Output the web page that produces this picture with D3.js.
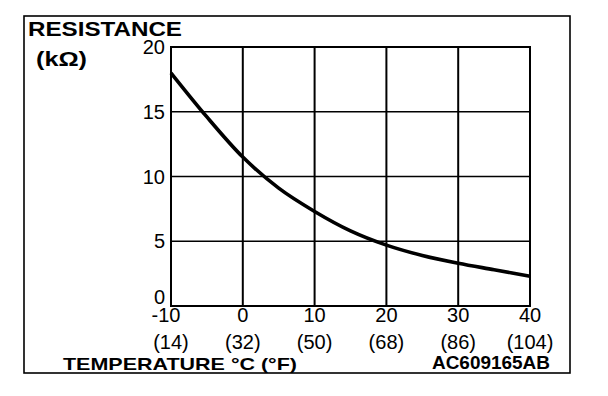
<!DOCTYPE html>
<html>
<head>
<meta charset="utf-8">
<script src="https://cdn.jsdelivr.net/npm/d3@7"></script>
<style>
  body { margin: 0; background: #fff; }
  text { font-family: "Liberation Sans", Arial, sans-serif; fill: #000; }
</style>
</head>
<body>
<svg id="chart" width="608" height="396"></svg>
<script>
// curve, every 5 degrees C
const tempC = [-10, -5, 0, 5, 10, 15, 20, 25, 30, 35, 40]
const resistance = [18.0, 14.6, 11.5, 9.1, 7.3, 5.8, 4.7, 3.9, 3.3, 2.8, 2.3]

const xTicks = [-10, 0, 10, 20, 30, 40]
const fahrenheitLabels = ["(14)", "(32)", "(50)", "(68)", "(86)", "(104)"]
const yTicks = [0, 5, 10, 15, 20]

;(function() {

  const svg = d3.select("#chart")

  const left = 171, right = 530, top = 47, bottom = 306

  const x = d3.scaleLinear().domain([-10, 40]).range([left, right])
  const y = d3.scaleLinear().domain([0, 20]).range([bottom, top])

  // outer frame
  svg.append("rect")
    .attr("x", 24).attr("y", 16)
    .attr("width", 546).attr("height", 357)
    .attr("fill", "none").attr("stroke", "#000").attr("stroke-width", 1.6)

  // grid lines
  svg.selectAll(".vgrid")
    .data(xTicks.slice(1, -1))
    .enter().append("line")
    .attr("x1", d => x(d)).attr("x2", d => x(d))
    .attr("y1", top).attr("y2", bottom)
    .attr("stroke", "#000").attr("stroke-width", 2)

  svg.selectAll(".hgrid")
    .data(yTicks.slice(1, -1))
    .enter().append("line")
    .attr("x1", left).attr("x2", right)
    .attr("y1", d => y(d)).attr("y2", d => y(d))
    .attr("stroke", "#000").attr("stroke-width", 1.4)

  // plot box
  svg.append("rect")
    .attr("x", left).attr("y", top)
    .attr("width", right - left).attr("height", bottom - top)
    .attr("fill", "none").attr("stroke", "#000").attr("stroke-width", 2)

  // the curve
  const line = d3.line()
    .x((d, i) => x(tempC[i]))
    .y(d => y(d))
    .curve(d3.curveMonotoneX)

  svg.append("path")
    .datum(resistance)
    .attr("d", line)
    .attr("fill", "none")
    .attr("stroke", "#000")
    .attr("stroke-width", 3.6)

  // y labels
  svg.selectAll(".ylab")
    .data(yTicks)
    .enter().append("text")
    .attr("x", 165)
    .attr("y", d => Math.min(y(d), bottom - 9))
    .attr("dy", "0.36em")
    .attr("text-anchor", "end")
    .attr("font-size", 20)
    .text(d => d)

  // x labels, celsius then fahrenheit
  svg.selectAll(".xlab")
    .data(xTicks)
    .enter().append("text")
    .attr("x", d => x(d) + (d < 0 ? -5 : 0))
    .attr("y", 322)
    .attr("text-anchor", "middle")
    .attr("font-size", 20)
    .text(d => d)

  svg.selectAll(".flab")
    .data(fahrenheitLabels)
    .enter().append("text")
    .attr("x", (d, i) => x(xTicks[i]))
    .attr("y", 349)
    .attr("text-anchor", "middle")
    .attr("font-size", 20)
    .text(d => d)

  // titles
  svg.append("text")
    .attr("x", 28).attr("y", 36)
    .attr("font-size", 21).attr("font-weight", "bold")
    .attr("textLength", 154).attr("lengthAdjust", "spacingAndGlyphs")
    .text("RESISTANCE")

  svg.append("text")
    .attr("x", 36).attr("y", 66)
    .attr("font-size", 21).attr("font-weight", "bold")
    .attr("textLength", 51).attr("lengthAdjust", "spacingAndGlyphs")
    .text("(kΩ)")

  svg.append("text")
    .attr("x", 63).attr("y", 370)
    .attr("font-size", 17).attr("font-weight", "bold")
    .attr("textLength", 234).attr("lengthAdjust", "spacingAndGlyphs")
    .text("TEMPERATURE °C (°F)")

  svg.append("text")
    .attr("x", 432).attr("y", 369)
    .attr("font-size", 19).attr("font-weight", "bold")
    .attr("textLength", 118).attr("lengthAdjust", "spacingAndGlyphs")
    .text("AC609165AB")

})()
</script>
</body>
</html>
